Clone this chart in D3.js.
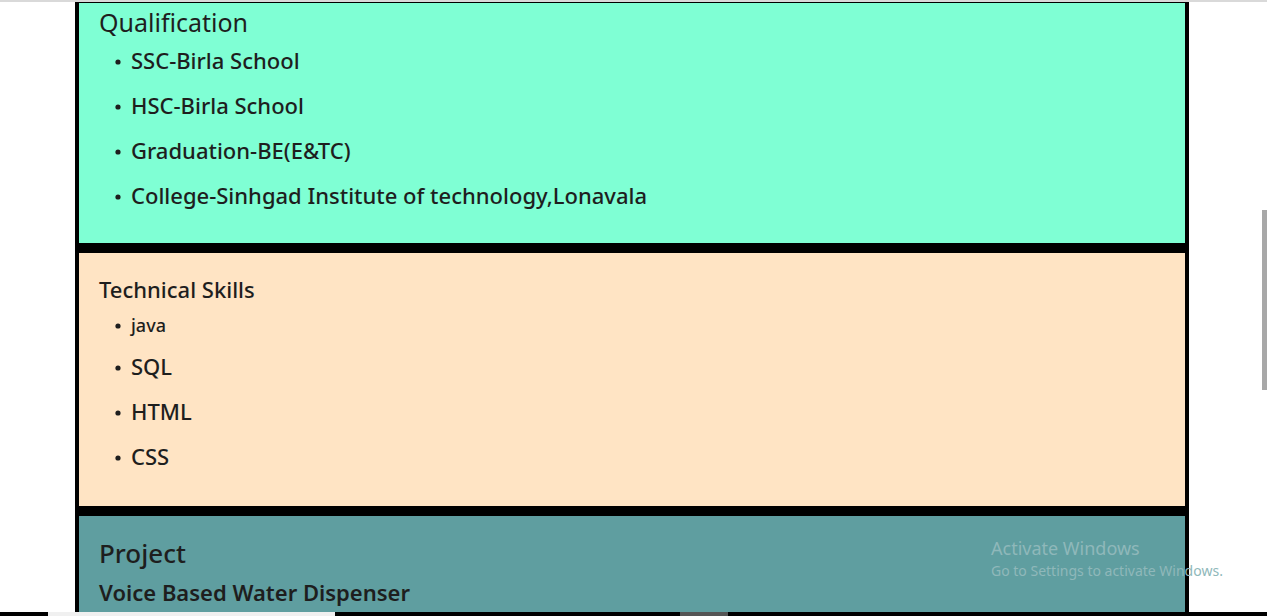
<!DOCTYPE html>
<html>
<head>
<meta charset="utf-8">
<script src="https://cdn.jsdelivr.net/npm/d3@7"></script>
<style>
  body { margin: 0; background: #fff; overflow: hidden; }
  text { font-family: "Noto Sans", "Open Sans", sans-serif; fill: #1e1e1e; }
</style>
</head>
<body>
<svg id="page"></svg>
<script>
// page content
var qualTitle = "Qualification";
var qualItems = ["SSC-Birla School", "HSC-Birla School", "Graduation-BE(E&TC)", "College-Sinhgad Institute of technology,Lonavala"];
var skillTitle = "Technical Skills";
var skillItems = ["java", "SQL", "HTML", "CSS"];
var projTitle = "Project";
var projName = "Voice Based Water Dispenser";

var width = 1267, height = 616;
var svg = d3.select("#page").attr("width", width).attr("height", height);

// sections: [top, bottom, colour]
var sections = [
  { y0: 3, y1: 243, fill: "#7fffd4" },
  { y0: 253, y1: 506, fill: "#ffe4c4" },
  { y0: 516, y1: 612, fill: "#5f9ea0" }
];

// black frame behind the coloured boxes
svg.append("rect").attr("x", 75).attr("y", 0).attr("width", 1114).attr("height", 612).attr("fill", "#000");
svg.selectAll("rect.sec")
  .data(sections)
  .enter()
  .append("rect")
  .attr("class", "sec")
  .attr("x", 79)
  .attr("y", function (d) { return d.y0; })
  .attr("width", 1106)
  .attr("height", function (d) { return d.y1 - d.y0; })
  .attr("fill", function (d) { return d.fill; });

// top line of window
svg.append("rect").attr("x", 0).attr("y", 0).attr("width", width).attr("height", 2).attr("fill", "#d9d9d9");

// qualification list
svg.append("text").attr("x", 99).attr("y", 32).style("font-size", "25px").text(qualTitle);
var qualY = d3.scalePoint().domain(qualItems).range([69, 204]);
var q = svg.selectAll("g.qual").data(qualItems).enter().append("g").attr("class", "qual");
q.append("circle").attr("cx", 118).attr("cy", function (d) { return qualY(d) - 7; }).attr("r", 2.6).attr("fill", "#1e1e1e");
q.append("text").attr("x", 131).attr("y", function (d) { return qualY(d); })
  .style("font-size", "22px").style("font-weight", 500).text(function (d) { return d; });

// skills list
svg.append("text").attr("x", 99).attr("y", 298).style("font-size", "22px").style("font-weight", 500).text(skillTitle);
var skillY = d3.scalePoint().domain(skillItems.slice(1)).range([375, 465]);
var s = svg.selectAll("g.skill").data(skillItems).enter().append("g").attr("class", "skill");
s.append("circle").attr("cx", 118)
  .attr("cy", function (d, i) { return i === 0 ? 326 : skillY(d) - 7; })
  .attr("r", 2.6).attr("fill", "#1e1e1e");
s.append("text").attr("x", 131)
  .attr("y", function (d, i) { return i === 0 ? 332 : skillY(d); })
  .style("font-size", function (d, i) { return i === 0 ? "18px" : "22px"; })
  .style("font-weight", 500)
  .text(function (d) { return d; });

// project
svg.append("text").attr("x", 99).attr("y", 563).style("font-size", "26px").style("font-weight", 500).text(projTitle);
svg.append("text").attr("x", 99).attr("y", 601).style("font-size", "22px").style("font-weight", 600).text(projName);

// windows watermark
svg.append("text").attr("x", 991).attr("y", 555).style("font-size", "18px").style("fill", "#8fb8ba").text("Activate Windows");
svg.append("text").attr("x", 991).attr("y", 576).style("font-size", "14px").style("fill", "#8fb8ba").text("Go to Settings to activate Windows.");

// scrollbar + bottom strip
svg.append("rect").attr("x", 1262).attr("y", 210).attr("width", 5).attr("height", 180).attr("fill", "#a8a8a8");
svg.append("rect").attr("x", 0).attr("y", 612).attr("width", width).attr("height", 4).attr("fill", "#000");
svg.append("rect").attr("x", 48).attr("y", 612).attr("width", 287).attr("height", 4).attr("fill", "#f0f0f0");
svg.append("rect").attr("x", 680).attr("y", 612).attr("width", 48).attr("height", 4).attr("fill", "#555");
</script>
</body>
</html>
